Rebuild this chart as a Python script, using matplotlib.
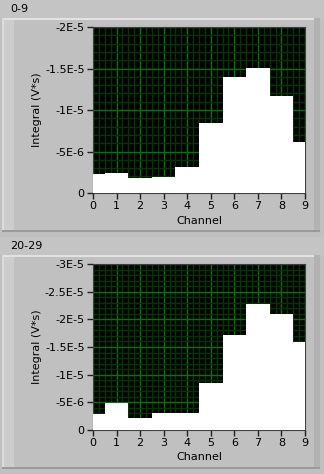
import matplotlib
matplotlib.use('Agg')
import matplotlib.pyplot as plt
from matplotlib.patches import Rectangle
from matplotlib.ticker import MultipleLocator, FixedLocator, FixedFormatter

channels = [0, 1, 2, 3, 4, 5, 6, 7, 8, 9]

# integrals in V*s (negative values)
integral_0_9 = [-2.25e-6, -2.37e-6, -1.81e-6, -1.93e-6, -3.13e-6,
                -8.39e-6, -13.98e-6, -15.02e-6, -11.65e-6, -6.10e-6]
integral_20_29 = [-2.84e-6, -4.95e-6, -2.23e-6, -3.14e-6, -3.14e-6,
                  -8.57e-6, -17.08e-6, -22.75e-6, -20.88e-6, -15.93e-6]

titles = ['0-9', '20-29']
yticks_0_9 = [0, -5e-6, -1e-5, -1.5e-5, -2e-5]
ylabels_0_9 = ['0', '-5E-6', '-1E-5', '-1.5E-5', '-2E-5']
yticks_20_29 = [0, -5e-6, -1e-5, -1.5e-5, -2e-5, -2.5e-5, -3e-5]
ylabels_20_29 = ['0', '-5E-6', '-1E-5', '-1.5E-5', '-2E-5', '-2.5E-5', '-3E-5']

BG = '#c0c0c0'
W, H = 324, 474

fig = plt.figure(figsize=(W / 100, H / 100), dpi=100, facecolor=BG)


def px_rect(x, y, w, h, **kw):
  # rectangle in pixel coords measured from the top-left
  fig.patches.append(Rectangle((x / W, 1 - (y + h) / H), w / W, h / H,
                               transform=fig.transFigure, **kw))


def draw_panel(top, title, values, yticks, ylabels, ymin, minor_y):
  # title strip and raised frame
  px_rect(0, top, W, 18, facecolor='#c4c4c4', edgecolor='none', zorder=0)
  fig.text(10 / W, 1 - (top + 9) / H, title, fontsize=8, va='center', ha='left')
  px_rect(2, top + 18, 318, 214, facecolor=BG, edgecolor='none', zorder=0)
  px_rect(2, top + 18, 318, 2, facecolor='#e2e2e2', edgecolor='none', zorder=1)
  px_rect(2, top + 18, 2, 214, facecolor='#dcdcdc', edgecolor='none', zorder=1)
  px_rect(4, top + 20, 10, 212, facecolor='#cdcdcd', edgecolor='none', zorder=1)
  px_rect(314, top + 18, 6, 214, facecolor='#b2b2b2', edgecolor='none', zorder=1)
  px_rect(2, top + 230, 318, 2, facecolor='#9a9a9a', edgecolor='none', zorder=1)

  ax = fig.add_axes([93 / W, 1 - (top + 193) / H, 212 / W, 166 / H])
  ax.set_zorder(10)
  ax.set_facecolor('black')
  ax.bar(channels, values, width=1.0, color='white', linewidth=0, zorder=3)
  ax.set_xlim(0, 9)
  ax.set_ylim(0, ymin)

  ax.xaxis.set_major_locator(MultipleLocator(1))
  ax.xaxis.set_minor_locator(MultipleLocator(0.25))
  ax.yaxis.set_major_locator(FixedLocator(yticks))
  ax.yaxis.set_major_formatter(FixedFormatter(ylabels))
  ax.yaxis.set_minor_locator(MultipleLocator(minor_y))

  ax.set_axisbelow(True)
  ax.grid(which='minor', color='#003800', linewidth=1.0)
  ax.grid(which='major', color='#007800', linewidth=1.0)
  ax.tick_params(which='minor', length=0)
  ax.tick_params(which='major', direction='out', length=4, width=1,
                 labelsize=8, pad=2, color='#202020')
  for s in ax.spines.values():
    s.set_color('#404040')
    s.set_linewidth(0.8)

  ax.set_xlabel('Channel', fontsize=8, labelpad=3)
  ax.set_ylabel('Integral (V*s)', fontsize=8, labelpad=2)
  return ax


draw_panel(0, titles[0], integral_0_9, yticks_0_9, ylabels_0_9, -2e-5, 1e-6)
draw_panel(237, titles[1], integral_20_29, yticks_20_29, ylabels_20_29, -3e-5, 1e-6)

fig.savefig('out.png', dpi=100, facecolor=BG)
